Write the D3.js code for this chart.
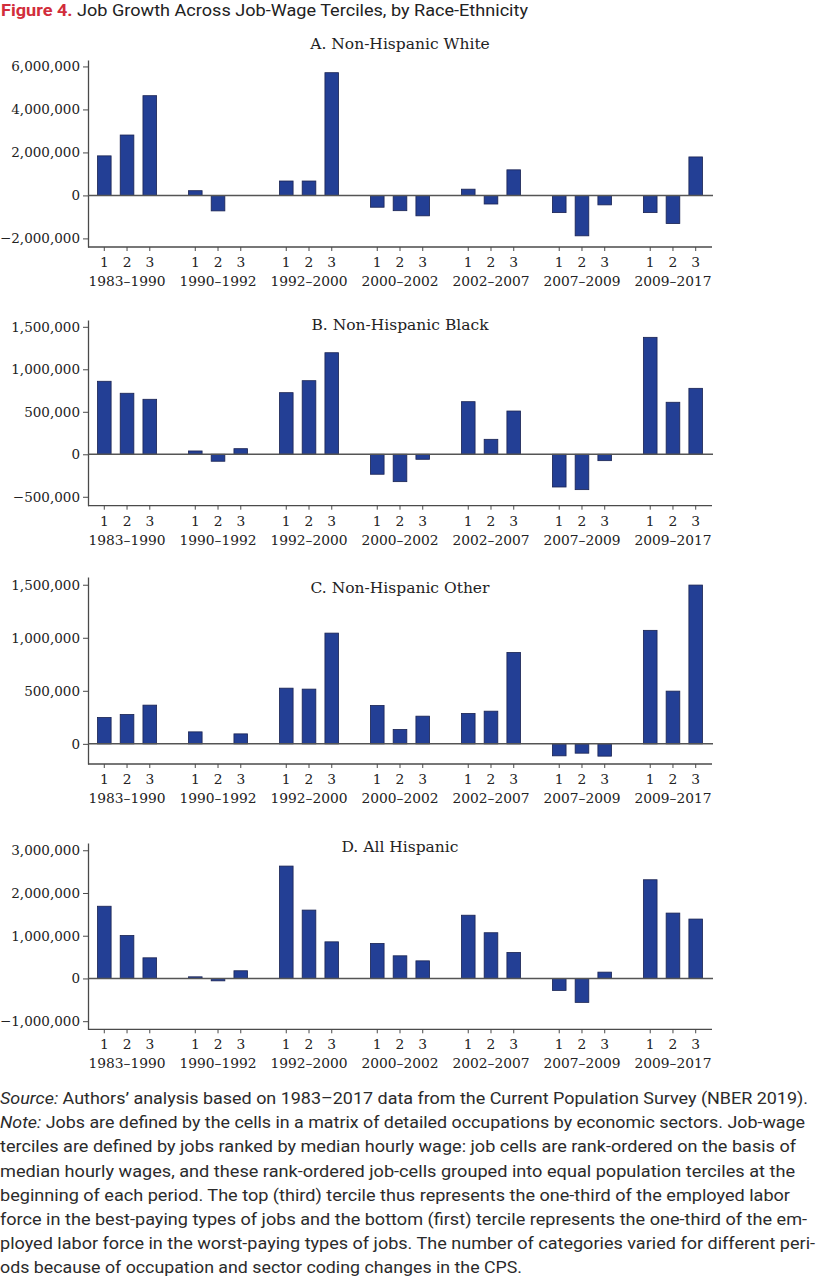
<!DOCTYPE html>
<html>
<head>
<meta charset="utf-8">
<script src="https://cdn.jsdelivr.net/npm/d3@7"></script>
<style>
  body { margin: 0; background: #fff; }
  svg { display: block; }
</style>
</head>
<body>
<script>
const periods = ["1983–1990", "1990–1992", "1992–2000", "2000–2002", "2002–2007", "2007–2009", "2009–2017"];
const terciles = ["1", "2", "3"];

// job growth by period (rows) and tercile (columns)
const whiteGrowth = [
  [1840000, 2810000, 4640000],
  [220000, -720000, 0],
  [670000, 670000, 5710000],
  [-550000, -710000, -950000],
  [290000, -400000, 1190000],
  [-800000, -1880000, -440000],
  [-800000, -1310000, 1790000]
];
const blackGrowth = [
  [859000, 718000, 647000],
  [39000, -82000, 66000],
  [725000, 866000, 1195000],
  [-235000, -322000, -59000],
  [619000, 176000, 509000],
  [-385000, -416000, -75000],
  [1376000, 612000, 776000]
];
const otherGrowth = [
  [249000, 277000, 365000],
  [113000, 0, 94000],
  [525000, 516000, 1044000],
  [362000, 136000, 261000],
  [287000, 308000, 862000],
  [-113000, -88000, -116000],
  [1070000, 497000, 1497000]
];
const hispanicGrowth = [
  [1690000, 1006000, 483000],
  [38000, -56000, 180000],
  [2630000, 1600000, 857000],
  [820000, 530000, 412000],
  [1480000, 1070000, 609000],
  [-280000, -560000, 148000],
  [2310000, 1530000, 1390000]
];

const whiteTicks = [-2000000, 0, 2000000, 4000000, 6000000];
const blackTicks = [-500000, 0, 500000, 1000000, 1500000];
const otherTicks = [0, 500000, 1000000, 1500000];
const hispanicTicks = [-1000000, 0, 1000000, 2000000, 3000000];

const panels = [
  { title: "A. Non-Hispanic White", values: whiteGrowth, ticks: whiteTicks,
    domain: [-2400000, 6300000], top: 60, bottom: 247, titleY: 49 },
  { title: "B. Non-Hispanic Black", values: blackGrowth, ticks: blackTicks,
    domain: [-605000, 1580000], top: 320, bottom: 505.7, titleY: 330 },
  { title: "C. Non-Hispanic Other", values: otherGrowth, ticks: otherTicks,
    domain: [-190000, 1573000], top: 577, bottom: 764, titleY: 593 },
  { title: "D. All Hispanic", values: hispanicGrowth, ticks: hispanicTicks,
    domain: [-1190000, 3170000], top: 843, bottom: 1029.3, titleY: 852 }
];

const noteLines = [
  { lead: "Source:", text: " Authors’ analysis based on 1983–2017 data from the Current Population Survey (NBER 2019).", end: 808 },
  { lead: "Note:", text: " Jobs are defined by the cells in a matrix of detailed occupations by economic sectors. Job-wage", end: 805 },
  { lead: "", text: "terciles are defined by jobs ranked by median hourly wage: job cells are rank-ordered on the basis of", end: 796 },
  { lead: "", text: "median hourly wages, and these rank-ordered job-cells grouped into equal population terciles at the", end: 795 },
  { lead: "", text: "beginning of each period. The top (third) tercile thus represents the one-third of the employed labor", end: 790 },
  { lead: "", text: "force in the best-paying types of jobs and the bottom (first) tercile represents the one-third of the em-", end: 807 },
  { lead: "", text: "ployed labor force in the worst-paying types of jobs. The number of categories varied for different peri-", end: 815 },
  { lead: "", text: "ods because of occupation and sector coding changes in the CPS.", end: 522 }
];

const width = 816, height = 1280;
const left = 88, right = 712;
const serif = "'DejaVu Serif', serif";
const sans = "Roboto, 'Liberation Sans', sans-serif";
const barFill = "#233f95";
const barStroke = "#1a2352";
const axisColor = "#4a4a4a";

let svg = d3.select("body")
  .append("svg")
  .attr("width", width)
  .attr("height", height);

// figure title
let title = svg.append("text")
  .attr("x", 1)
  .attr("y", 15.5)
  .attr("font-family", sans)
  .attr("font-size", 17)
  .attr("fill", "#222")
  .attr("textLength", 527)
  .attr("lengthAdjust", "spacingAndGlyphs");
title.append("tspan").attr("font-weight", "bold").attr("fill", "#d22d3b").text("Figure 4.");
title.append("tspan").text(" Job Growth Across Job-Wage Terciles, by Race-Ethnicity");

const x0 = d3.scaleBand()
  .domain(periods)
  .range([left, right])
  .paddingInner(0.25)
  .paddingOuter(0.054);

const x1 = d3.scaleBand()
  .domain(terciles)
  .range([0, x0.bandwidth()])
  .paddingInner(0.4)
  .paddingOuter(0.2);

const fmt = d3.format(",");

panels.forEach(function(p) {
  const y = d3.scaleLinear().domain(p.domain).range([p.bottom, p.top]);
  const g = svg.append("g");

  g.append("text")
    .attr("x", (left + right) / 2)
    .attr("y", p.titleY)
    .attr("text-anchor", "middle")
    .attr("font-family", serif)
    .attr("font-size", 15.5)
    .attr("fill", "#222")
    .text(p.title);

  // y axis
  const yAxis = g.append("g")
    .attr("transform", "translate(" + left + ",0)")
    .call(d3.axisLeft(y).tickValues(p.ticks).tickFormat(fmt).tickSize(5).tickPadding(3).tickSizeOuter(0));
  yAxis.select(".domain").attr("stroke", axisColor).attr("stroke-width", 1.3);
  yAxis.selectAll(".tick line").attr("stroke", axisColor).attr("stroke-width", 1);
  yAxis.selectAll(".tick text")
    .attr("font-family", serif)
    .attr("font-size", 13.5)
    .attr("fill", "#222");

  // bottom axis with tercile ticks
  const xs = [];
  periods.forEach(function(per) {
    terciles.forEach(function(t) {
      xs.push({ period: per, tercile: t, cx: x0(per) + x1(t) + x1.bandwidth() / 2 });
    });
  });

  g.append("line")
    .attr("x1", left).attr("x2", right)
    .attr("y1", p.bottom).attr("y2", p.bottom)
    .attr("stroke", axisColor).attr("stroke-width", 1.3);

  g.selectAll(".xtick")
    .data(xs)
    .enter()
    .append("line")
    .attr("x1", d => d.cx).attr("x2", d => d.cx)
    .attr("y1", p.bottom).attr("y2", p.bottom + 4)
    .attr("stroke", axisColor).attr("stroke-width", 1);

  g.selectAll(".terc")
    .data(xs)
    .enter()
    .append("text")
    .attr("x", d => d.cx)
    .attr("y", p.bottom + 20)
    .attr("text-anchor", "middle")
    .attr("font-family", serif)
    .attr("font-size", 13.8)
    .attr("fill", "#222")
    .text(d => d.tercile);

  g.selectAll(".per")
    .data(periods)
    .enter()
    .append("text")
    .attr("x", d => x0(d) + x0.bandwidth() / 2)
    .attr("y", p.bottom + 39)
    .attr("text-anchor", "middle")
    .attr("font-family", serif)
    .attr("font-size", 13.8)
    .attr("fill", "#222")
    .text(d => d);

  // bars
  const cells = [];
  p.values.forEach(function(row, i) {
    row.forEach(function(v, j) {
      cells.push({ period: periods[i], tercile: terciles[j], value: v });
    });
  });

  g.selectAll("rect")
    .data(cells.filter(d => d.value !== 0))
    .enter()
    .append("rect")
    .attr("x", d => x0(d.period) + x1(d.tercile))
    .attr("width", x1.bandwidth())
    .attr("y", d => y(Math.max(0, d.value)))
    .attr("height", d => Math.abs(y(d.value) - y(0)))
    .attr("fill", barFill)
    .attr("stroke", barStroke)
    .attr("stroke-width", 0.8);

  // zero line
  g.append("line")
    .attr("x1", left).attr("x2", right + 1)
    .attr("y1", y(0)).attr("y2", y(0))
    .attr("stroke", "#555").attr("stroke-width", 1.5);
});

// source and note
noteLines.forEach(function(l, i) {
  const t = svg.append("text")
    .attr("x", 0)
    .attr("y", 1104 + i * 24.2)
    .attr("font-family", sans)
    .attr("font-size", 16)
    .attr("fill", "#2b2b2b")
    .attr("textLength", l.end)
    .attr("lengthAdjust", "spacingAndGlyphs");
  if (l.lead) t.append("tspan").attr("font-style", "italic").text(l.lead);
  t.append("tspan").text(l.text);
});
</script>
</body>
</html>
